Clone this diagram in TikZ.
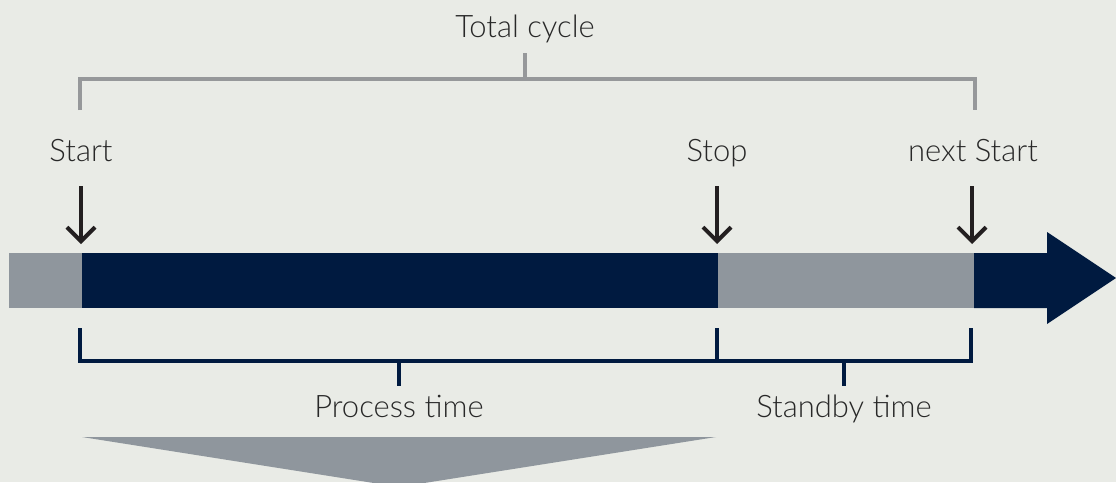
\documentclass[tikz,border=0pt]{standalone}
\usepackage{fontspec}
\setmainfont{Lato}[UprightFont={* Light}]
\usetikzlibrary{arrows.meta}
\definecolor{bg}{RGB}{233,235,230}
\definecolor{navy}{RGB}{0,26,64}
\definecolor{bargray}{RGB}{143,150,157}
\definecolor{brgray}{RGB}{150,152,154}
\definecolor{txt}{RGB}{40,40,40}
\definecolor{arr}{RGB}{35,31,32}
\tikzset{
  lbl/.style={anchor=base, inner sep=0pt, text=txt, font=\fontsize{31}{31}\selectfont},
  marker/.style={draw=arr, line width=4pt, -{Straight Barb[length=14pt,width=28pt,line width=4pt]}},
  graybr/.style={draw=brgray, line width=3.5pt},
  navybr/.style={draw=navy, line width=4pt},
}
\begin{document}
\begin{tikzpicture}[x=1pt,y=-1pt]
\fill[bg] (0,0) rectangle (1116,482);
\useasboundingbox (0,0) rectangle (1116,482);
\clip (0,0) rectangle (1116,482);
% bar
\fill[bargray] (9,253) rectangle (82,308);
\fill[navy] (82,253) rectangle (718,308);
\fill[bargray] (718,253) rectangle (974,308);
\fill[navy] (974,253) -- (1047,253) -- (1047,232) -- (1116,278) -- (1047,324) -- (1047,308) -- (974,308) -- cycle;
% funnel triangle
\fill[bargray] (82,437) -- (716,437) -- (399,487) -- cycle;
% labels
\node[lbl] (total) at (525,37) {Total cycle};
\node[lbl] (start) at (81,161) {Start};
\node[lbl] (stop) at (717,161) {Stop};
\node[lbl] (next) at (973,161) {next Start};
\node[lbl] (proc) at (399,417) {Process time};
\node[lbl] (stby) at (844,417) {Standby time};
% marker arrows
\coordinate (a1s) at (81,186); \coordinate (a1e) at (81,244);
\coordinate (a2s) at (717,186); \coordinate (a2e) at (717,244);
\coordinate (a3s) at (972,186); \coordinate (a3e) at (972,244);
\draw[marker] (a1s) -- (a1e);
\draw[marker] (a2s) -- (a2e);
\draw[marker] (a3s) -- (a3e);
% gray bracket
\coordinate (g0) at (525,53);
\coordinate (g1) at (525,79);
\coordinate (gl) at (80,110);
\coordinate (gr) at (975,110);
\draw[graybr] (g0) -- (g1);
\draw[graybr, line join=miter] (gl) |- (g1) -| (gr);
% navy brackets
\coordinate (n1) at (80,328);
\coordinate (n2) at (717,328);
\coordinate (n3) at (971,328);
\coordinate (nh) at (80,361);
\coordinate (pstem) at (399,386);
\coordinate (sstem) at (844,386);
\draw[navybr, line join=miter] (n1) |- (n3 |- nh) -- (n3);
\draw[navybr] (n2) -- (n2 |- nh);
\draw[navybr] (pstem |- nh) -- (pstem);
\draw[navybr] (sstem |- nh) -- (sstem);
\end{tikzpicture}
\end{document}
